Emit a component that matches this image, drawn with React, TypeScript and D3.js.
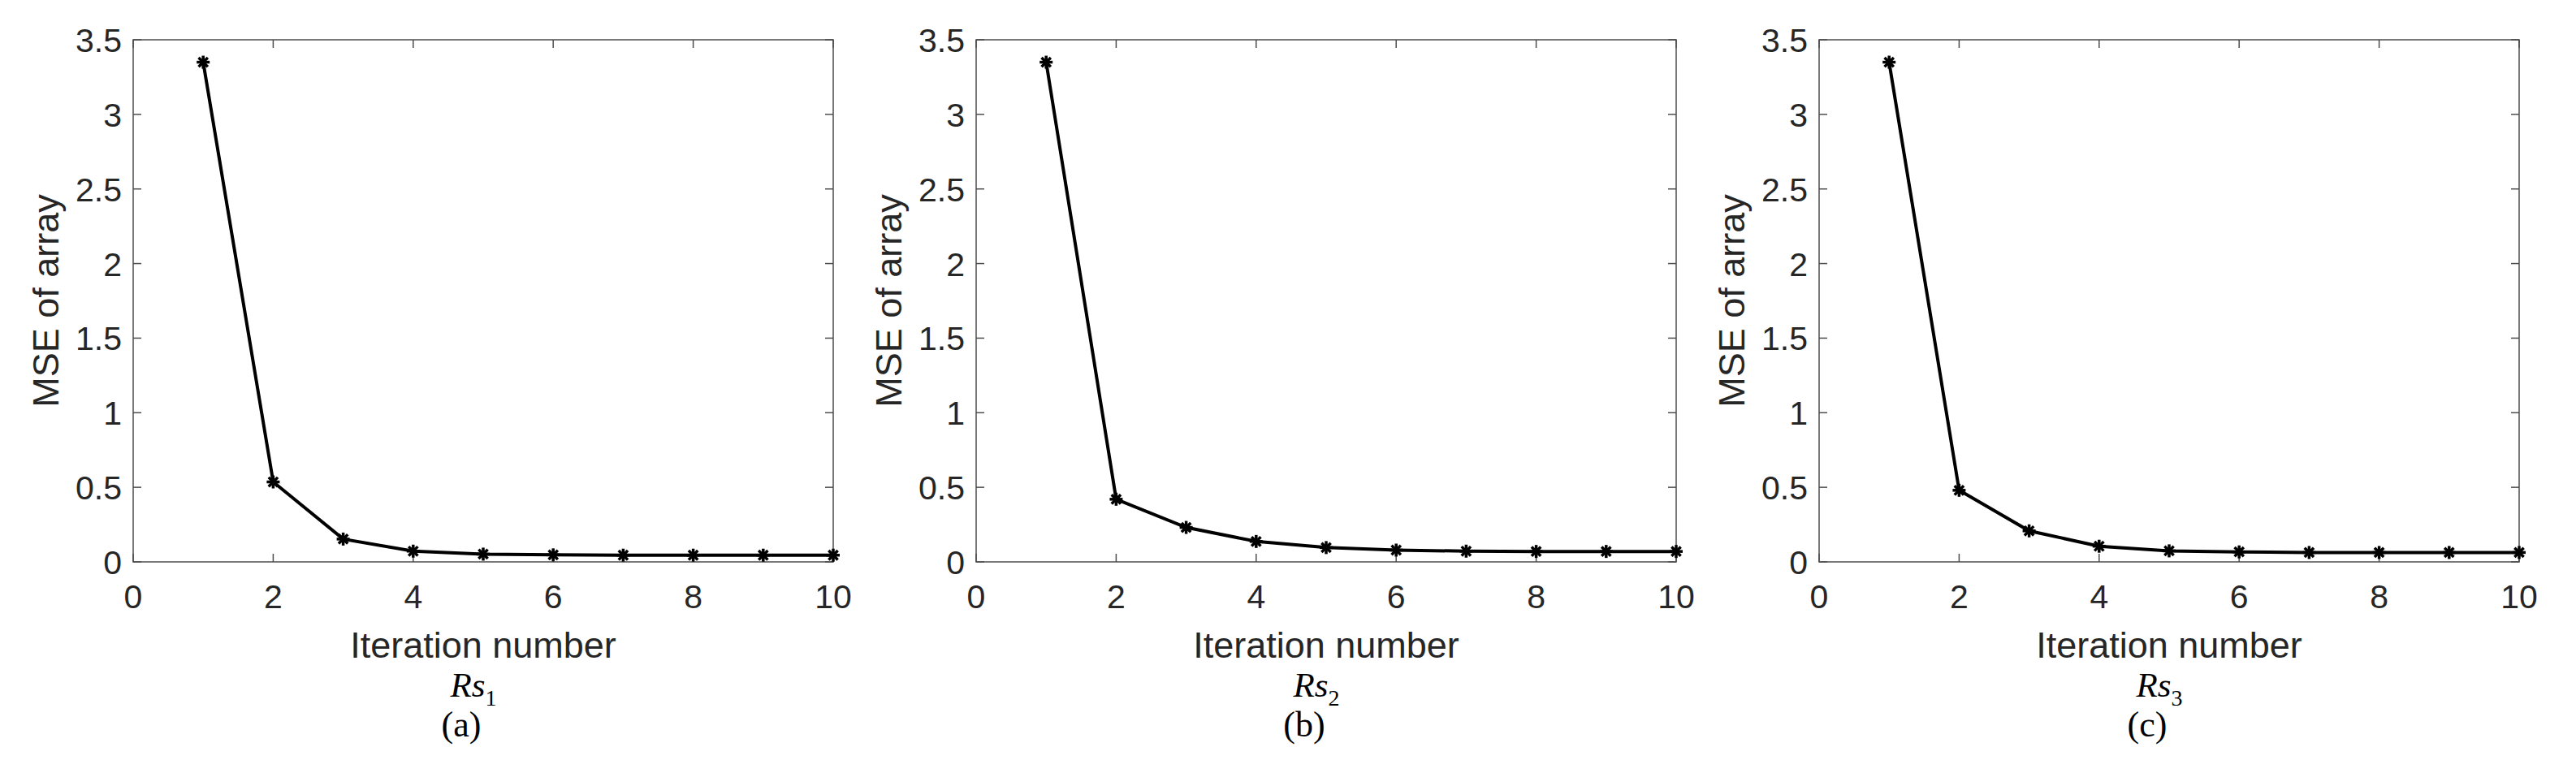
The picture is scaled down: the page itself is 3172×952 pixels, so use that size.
import * as d3 from "d3"

const iterations = [1, 2, 3, 4, 5, 6, 7, 8, 9, 10]
const mseRs1 = [3.35, 0.536, 0.153, 0.072, 0.052, 0.047, 0.045, 0.045, 0.045, 0.045]
const mseRs2 = [3.35, 0.42, 0.231, 0.137, 0.096, 0.079, 0.072, 0.07, 0.07, 0.07]
const mseRs3 = [3.35, 0.48, 0.208, 0.105, 0.074, 0.067, 0.063, 0.063, 0.063, 0.063]
const xTicks = [0, 2, 4, 6, 8, 10]
const yTicks = [0, 0.5, 1, 1.5, 2, 2.5, 3, 3.5]
const panelSubs = ["1", "2", "3"]
const panelTags = ["(a)", "(b)", "(c)"]
const series = [mseRs1, mseRs2, mseRs3]

const W = 3172
const H = 952
const plotW = 862
const top = 49
const bottom = 692
const panelLeft = [164, 1202, 2240]
const axisColor = "#4d4d4d"
const textColor = "#262626"
const sans = "Arial, 'Liberation Sans', Helvetica, sans-serif"
const serif = "'Times New Roman', 'Liberation Serif', serif"

// matlab style '*' marker: plus and cross on top of each other
function Star({ x, y }: { x: number; y: number }) {
  const r = 8
  const arms = [0, 45, 90, 135]
  return (
    <g transform={`translate(${x},${y})`} stroke="#000" strokeWidth={3.5}>
      {arms.map((a) => {
        const rad = (a * Math.PI) / 180
        const dx = Math.cos(rad) * r
        const dy = Math.sin(rad) * r
        return <line key={a} x1={-dx} y1={-dy} x2={dx} y2={dy} />
      })}
    </g>
  )
}

function Panel({ idx }: { idx: number }) {
  const left = panelLeft[idx]
  const x = d3.scaleLinear().domain([0, 10]).range([left, left + plotW])
  const y = d3.scaleLinear().domain([0, 3.5]).range([bottom, top])
  const values = series[idx]
  const line = d3
    .line<number>()
    .x((_, i) => x(iterations[i]))
    .y((d) => y(d))
  const tick = 10
  const cx = left + plotW / 2

  return (
    <g>
      <rect x={left} y={top} width={plotW} height={bottom - top} fill="none" stroke={axisColor} strokeWidth={1.5} />
      {xTicks.map((t) => (
        <g key={"x" + t}>
          <line x1={x(t)} x2={x(t)} y1={bottom} y2={bottom - tick} stroke={axisColor} strokeWidth={1.5} />
          <line x1={x(t)} x2={x(t)} y1={top} y2={top + tick} stroke={axisColor} strokeWidth={1.5} />
          <text x={x(t)} y={749} textAnchor="middle" fontFamily={sans} fontSize={41} fill={textColor}>
            {t}
          </text>
        </g>
      ))}
      {yTicks.map((t) => (
        <g key={"y" + t}>
          <line x1={left} x2={left + tick} y1={y(t)} y2={y(t)} stroke={axisColor} strokeWidth={1.5} />
          <line x1={left + plotW} x2={left + plotW - tick} y1={y(t)} y2={y(t)} stroke={axisColor} strokeWidth={1.5} />
          <text x={left - 14} y={y(t) + 15} textAnchor="end" fontFamily={sans} fontSize={41} fill={textColor}>
            {t}
          </text>
        </g>
      ))}
      <path d={line(values) || undefined} fill="none" stroke="#000" strokeWidth={4} />
      {values.map((v, i) => (
        <Star key={i} x={x(iterations[i])} y={y(v)} />
      ))}
      <text
        transform={`translate(${left - 92},${(top + bottom) / 2}) rotate(-90)`}
        textAnchor="middle"
        fontFamily={sans}
        fontSize={45}
        fill={textColor}
      >
        MSE of array
      </text>
      <text x={cx} y={810} textAnchor="middle" fontFamily={sans} fontSize={45} fill={textColor}>
        Iteration number
      </text>
      <text x={cx - 12} y={858} textAnchor="middle" fontFamily={serif} fontSize={43} fill="#000">
        <tspan fontStyle="italic">Rs</tspan>
        <tspan fontSize={28} dy={11}>
          {panelSubs[idx]}
        </tspan>
      </text>
      <text x={cx - 27} y={907} textAnchor="middle" fontFamily={serif} fontSize={44} fill="#000">
        {panelTags[idx]}
      </text>
    </g>
  )
}

export default function App() {
  return (
    <svg
      width={W}
      height={H}
      viewBox={`0 0 ${W} ${H}`}
      style={{ position: "absolute", left: 0, top: 0, background: "#fff" }}
    >
      <rect width={W} height={H} fill="#fff" />
      {[0, 1, 2].map((i) => (
        <Panel key={i} idx={i} />
      ))}
    </svg>
  )
}
